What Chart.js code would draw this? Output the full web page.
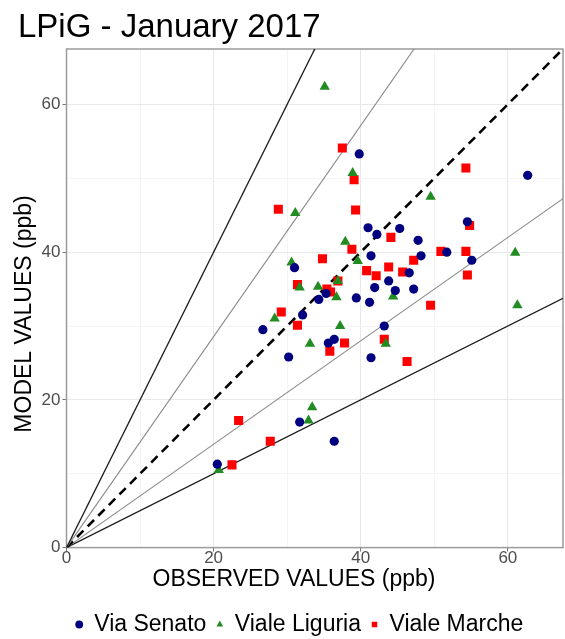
<!DOCTYPE html>
<html>
<head>
<meta charset="utf-8">
<script src="https://cdn.jsdelivr.net/npm/chart.js@4/dist/chart.umd.min.js"></script>
<style>
  html, body { margin: 0; padding: 0; background: #fff; }
</style>
</head>
<body>
<canvas id="chart" width="565" height="639"></canvas>
<script>
const plotTitle = 'LPiG - January 2017'
const xTitle = 'OBSERVED VALUES (ppb)'
const yTitle = 'MODEL VALUES (ppb)'
const stations = ['Via Senato', 'Viale Liguria', 'Viale Marche']

// observed (x) / model (y) pairs
const senatoObs = [20.5, 26.7, 30.2, 31.0, 31.7, 32.1, 34.3, 35.3, 35.6, 36.4, 36.4, 39.4, 39.8, 41.0, 41.2, 41.4, 41.4, 41.9, 42.2, 43.2, 43.8, 44.7, 45.3, 46.6, 47.2, 47.8, 48.2, 51.7, 54.5, 55.1, 62.7]
const senatoMod = [11.3, 29.5, 25.8, 37.9, 17.0, 31.5, 33.6, 34.4, 27.7, 28.2, 14.4, 33.8, 53.3, 43.3, 33.2, 39.5, 25.7, 35.2, 42.4, 30.0, 36.1, 34.8, 43.2, 37.2, 35.0, 41.6, 39.5, 40.0, 44.1, 38.9, 50.4]

const liguriaObs = [20.7, 28.3, 30.6, 31.1, 31.7, 32.9, 33.1, 33.4, 34.2, 35.1, 36.7, 36.9, 37.2, 37.9, 38.9, 39.6, 43.4, 44.4, 49.5, 61.0, 61.3]
const liguriaMod = [10.5, 31.0, 38.6, 45.3, 35.2, 17.2, 27.6, 19.0, 35.3, 62.4, 33.9, 36.1, 30.0, 41.4, 50.7, 38.8, 27.6, 34.0, 47.5, 39.9, 32.8]

const marcheObs = [22.5, 23.4, 27.7, 28.8, 29.2, 31.4, 31.4, 34.8, 35.4, 35.8, 35.9, 36.9, 37.5, 37.8, 38.8, 39.1, 39.3, 40.8, 42.1, 43.2, 43.8, 44.1, 45.7, 46.3, 47.2, 49.5, 50.9, 54.3, 54.3, 54.5, 54.8]
const marcheMod = [11.2, 17.2, 14.4, 45.8, 31.9, 35.6, 30.1, 39.1, 35.0, 26.6, 34.6, 36.1, 54.1, 27.7, 40.4, 49.8, 45.7, 37.5, 36.8, 28.2, 38.0, 42.0, 37.3, 25.2, 38.9, 32.8, 40.1, 51.4, 40.1, 36.9, 43.6]

// reference lines y = k * x
const refSlopes = [2, 1 / 0.7, 1, 0.7, 0.5]
const axisMax = 67.5

const FONT = '"Liberation Sans", Arial, sans-serif'

const toPoints = (xs, ys) => xs.map((x, i) => ({ x, y: ys[i] }))

const refStyle = {
  2: { color: '#1a1a1a', width: 1.3, dash: [] },
  1: { color: '#000', width: 2.6, dash: [9, 6] },
  0.5: { color: '#1a1a1a', width: 1.3, dash: [] },
}

const refLines = refSlopes.map(k => {
  const s = refStyle[k] || { color: '#8a8a8a', width: 1.1, dash: [] }
  return {
    type: 'line',
    label: 'ref',
    data: [{ x: 0, y: 0 }, { x: axisMax, y: k * axisMax }],
    borderColor: s.color,
    borderWidth: s.width,
    borderDash: s.dash,
    pointRadius: 0,
    order: 10,
  }
})

const pointSets = [
  { label: stations[0], data: toPoints(senatoObs, senatoMod), pointStyle: 'circle', pointRadius: 4.6, color: '#000080' },
  { label: stations[1], data: toPoints(liguriaObs, liguriaMod), pointStyle: 'triangle', pointRadius: 6, color: '#228B22' },
  { label: stations[2], data: toPoints(marcheObs, marcheMod), pointStyle: 'rect', pointRadius: 6.4, color: '#FF0000' },
].map(d => ({
  type: 'scatter',
  label: d.label,
  data: d.data,
  pointStyle: d.pointStyle,
  pointRadius: d.pointRadius,
  pointBackgroundColor: d.color,
  pointBorderColor: d.color,
  pointBorderWidth: 0,
  backgroundColor: d.color,
  borderColor: d.color,
}))

// panel border, plot title and the two axis titles
const panelPlugin = {
  id: 'panel',
  beforeDatasetsDraw(chart) {
    const { ctx, chartArea: a } = chart
    ctx.save()
    ctx.strokeStyle = '#9a9a9a'
    ctx.lineWidth = 1.5
    ctx.strokeRect(a.left, a.top, a.right - a.left, a.bottom - a.top)
    ctx.restore()
  },
  afterDraw(chart) {
    const { ctx } = chart
    ctx.save()
    ctx.fillStyle = '#000'
    ctx.font = '33px ' + FONT
    ctx.textBaseline = 'alphabetic'
    ctx.textAlign = 'left'
    ctx.fillText(plotTitle, 18, 37)

    ctx.font = '23px ' + FONT
    ctx.textAlign = 'center'
    ctx.textBaseline = 'middle'
    ctx.fillText(xTitle, 294, 580)

    ctx.translate(25, 314)
    ctx.rotate(-Math.PI / 2)
    ctx.fillText(yTitle, 0, 0)
    ctx.restore()
  },
}

const isMajor = v => v % 20 === 0

const axis = isY => ({
  type: 'linear',
  min: 0,
  max: axisMax,
  border: { display: false },
  grid: {
    color: c => (isMajor(c.tick.value) ? '#e8e8e8' : '#f4f4f4'),
    lineWidth: 1,
    tickLength: 4,
    tickColor: c => (isMajor(c.tick.value) ? '#777' : 'rgba(0,0,0,0)'),
  },
  ticks: {
    stepSize: 10,
    includeBounds: false,
    autoSkip: false,
    maxRotation: 0,
    padding: isY ? 2 : -3,
    color: '#4d4d4d',
    font: { family: FONT, size: 17 },
    callback: v => (isMajor(v) ? String(v) : ''),
  },
  title: { display: false },
  afterFit(scale) {
    if (isY) scale.width = 30.5
    else scale.height = 55.4
  },
})

new Chart(document.getElementById('chart'), {
  data: { datasets: [...refLines, ...pointSets] },
  plugins: [panelPlugin],
  options: {
    responsive: false,
    animation: false,
    layout: { autoPadding: false, padding: { top: 49, right: 2, bottom: -7, left: 36 } },
    scales: {
      x: axis(false),
      y: axis(true),
    },
    plugins: {
      title: { display: false },
      tooltip: { enabled: false },
      legend: {
        display: true,
        position: 'bottom',
        labels: {
          usePointStyle: true,
          boxWidth: 7,
          boxHeight: 5.5,
          padding: 10,
          color: '#000',
          font: { family: FONT, size: 23 },
          filter: item => stations.includes(item.text),
        },
      },
    },
  },
})
</script>
</body>
</html>
